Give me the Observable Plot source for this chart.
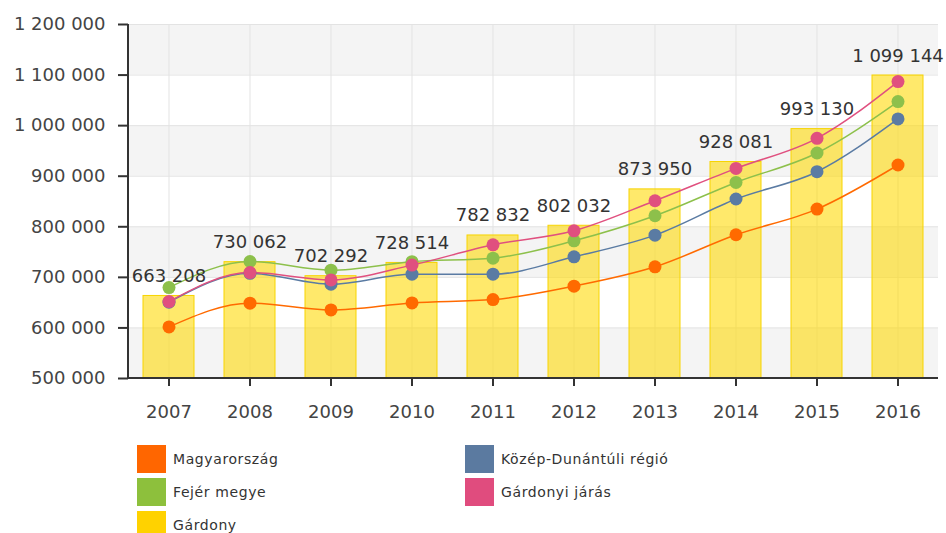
<!DOCTYPE html>
<html><head><meta charset="utf-8">
<script src="https://cdn.jsdelivr.net/npm/d3@7"></script>
<script src="https://cdn.jsdelivr.net/npm/@observablehq/plot@0.6"></script>
<style>
body{margin:0;background:#fff;font-family:"DejaVu Sans",sans-serif;}
#chart svg{display:block}
#legend{display:grid;grid-template-columns:328px 328px;margin-left:137px;row-gap:5px;padding-top:15px}
.item{display:flex;align-items:center;height:28px;font-size:14px;letter-spacing:0.6px;color:#333}
.sw{width:29px;height:28px;margin-right:7px;flex:none}
</style></head><body>
<div id="chart"></div><div id="legend"></div>
<script>
const years = ["2007","2008","2009","2010","2011","2012","2013","2014","2015","2016"];
const magyarorszag   = [602000, 648900, 635600, 649500, 656000, 682600, 720800, 784200, 835000, 922200];
const kozepDunantul  = [651000, 708000, 686500, 706300, 706300, 740600, 783500, 854900, 908900, 1013300];
const fejerMegye     = [679800, 731300, 714200, 731000, 738000, 772300, 821800, 887700, 945900, 1047500];
const gardonyiJaras  = [652100, 709500, 695000, 724200, 764400, 792100, 851500, 915500, 974900, 1087100];
const gardony        = [663208, 730062, 702292, 728514, 782832, 802032, 873950, 928081, 993130, 1099144];
const yTicks = [500000, 600000, 700000, 800000, 900000, 1000000, 1100000, 1200000];
const bandLows = [500000, 700000, 900000, 1100000];

const lineSeries = [
  {name: "Magyarország", values: magyarorszag, color: "#FF6A00"},
  {name: "Közép-Dunántúli régió", values: kozepDunantul, color: "#5A7BA3"},
  {name: "Fejér megye", values: fejerMegye, color: "#8DC04B"},
  {name: "Gárdonyi járás", values: gardonyiJaras, color: "#E0507F"}
];
const legendItems = [
  {name: "Magyarország", color: "#FF6600"},
  {name: "Közép-Dunántúli régió", color: "#5B7AA0"},
  {name: "Fejér megye", color: "#8DC03C"},
  {name: "Gárdonyi járás", color: "#E04C7E"},
  {name: "Gárdony", color: "#FFD200"}
];

const fmt = v => d3.format(",")(v).replace(/,/g, " ");
const long = lineSeries.flatMap(s => years.map((y, i) => ({series: s.name, year: y, value: s.values[i], color: s.color})));
const bars = years.map((y, i) => ({year: y, value: gardony[i]}));

const axisLines = (index, scales, values, dims) => {
  const g = d3.create("svg:g").attr("stroke", "#333").attr("stroke-width", 2);
  g.append("line").attr("x1", dims.marginLeft).attr("x2", dims.marginLeft)
    .attr("y1", dims.marginTop).attr("y2", dims.height - dims.marginBottom + 1);
  g.append("line").attr("x1", dims.marginLeft - 1).attr("x2", dims.width - dims.marginRight)
    .attr("y1", dims.height - dims.marginBottom).attr("y2", dims.height - dims.marginBottom);
  return g.node();
};

const chart = Plot.plot({
  width: 946,
  height: 430,
  marginLeft: 128,
  marginRight: 8,
  marginTop: 24,
  marginBottom: 52,
  style: {fontFamily: "DejaVu Sans, sans-serif", fontSize: "18px", color: "#333", background: "transparent", overflow: "visible"},
  x: {type: "band", domain: years, paddingInner: 0.37, paddingOuter: 0.185, label: null},
  y: {domain: [500000, 1200000], label: null},
  marks: [
    Plot.rect(bandLows, {y1: d => d, y2: d => d + 100000, fill: "#f4f4f4"}),
    Plot.gridY(yTicks, {stroke: "#e3e3e3", strokeOpacity: 1}),
    Plot.gridX({stroke: "#e3e3e3", strokeOpacity: 1}),
    Plot.barY(bars, {x: "year", y1: 500000, y2: "value", fill: "#FFD900", fillOpacity: 0.58, stroke: "#F7D400", strokeOpacity: 1, strokeWidth: 1}),
    Plot.lineY(long, {x: "year", y: "value", z: "series", stroke: "color", strokeWidth: 1.5, curve: "monotone-x"}),
    Plot.dot(long, {x: "year", y: "value", fill: "color", r: 6.5}),
    Plot.text(bars, {x: "year", y: "value", text: d => fmt(d.value), dy: -14, lineAnchor: "bottom", fill: "#333", fontSize: 18}),
    Plot.axisX({tickSize: 8, tickPadding: 19, fill: "#444", stroke: "#333", strokeWidth: 2}),
    Plot.axisY(yTicks, {tickSize: 10, tickPadding: 13, tickFormat: fmt, fill: "#444", stroke: "#333", strokeWidth: 2}),
    axisLines
  ]
});
document.getElementById("chart").appendChild(chart);

const legend = document.getElementById("legend");
for (const it of legendItems) {
  const d = document.createElement("div");
  d.className = "item";
  const sw = document.createElement("span");
  sw.className = "sw";
  sw.style.background = it.color;
  const t = document.createElement("span");
  t.textContent = it.name;
  d.append(sw, t);
  legend.appendChild(d);
}
</script>
</body></html>
